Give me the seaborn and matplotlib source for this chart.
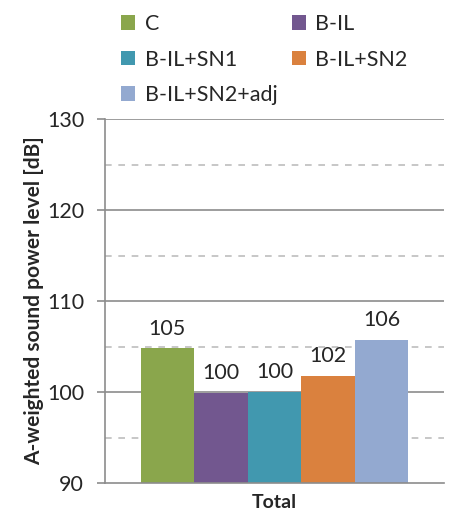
import matplotlib
matplotlib.use("Agg")
import matplotlib.pyplot as plt
from matplotlib.patches import Patch
from matplotlib.ticker import MultipleLocator
import pandas as pd
import seaborn as sns

# Configurations and their total A-weighted sound power levels
configs = ["C", "B-IL", "B-IL+SN1", "B-IL+SN2", "B-IL+SN2+adj"]
levels_db = [104.8, 99.9, 100.0, 101.8, 105.7]
group = ["Total"]
colors = ["#8AA64C", "#72578F", "#4198AF", "#DA813E", "#93A9D0"]

floor = 90  # y-axis floor; bars rise from here

df = pd.DataFrame({
    "group": group * len(configs),
    "config": configs,
    "height": [v - floor for v in levels_db],
})

sns.set_theme(style="white")
plt.rcParams["font.family"] = ["Lato", "DejaVu Sans"]

fig = plt.figure(figsize=(4.5, 5.11), dpi=100)
ax = fig.add_axes([0.2333, 0.0548, 0.7534, 0.7122])

sns.barplot(data=df, x="group", y="height", hue="config", hue_order=configs,
            palette=colors, width=0.79, saturation=1, legend=False,
            linewidth=0, ax=ax)
for patch in ax.patches:
    patch.set_y(floor)

ax.set_xlim(-0.5, 0.5)
ax.set_ylim(90, 130)
ax.yaxis.set_major_locator(MultipleLocator(10))

ax.grid(False)
for y in [100, 110, 120, 130]:
    ax.axhline(y, color="#8C8C8C", lw=1.2, zorder=0)
for y in [95, 105, 115, 125]:
    ax.axhline(y, color="#BDBDBD", lw=1.2, ls=(0, (4, 4)), zorder=0)

for side in ["top", "right"]:
    ax.spines[side].set_visible(False)
for side in ["left", "bottom"]:
    ax.spines[side].set_color("#8C8C8C")
    ax.spines[side].set_linewidth(1.2)

ax.tick_params(axis="y", which="major", left=True, length=6, width=1.2,
               color="#8C8C8C", labelsize=15.5, labelcolor="#262626", pad=9)
ax.tick_params(axis="x", bottom=False, labelsize=14, pad=2)
for lbl in ax.get_xticklabels():
    lbl.set_fontweight("bold")

ax.set_xlabel("")
ax.set_ylabel("A-weighted sound power level [dB]", fontsize=15,
              fontweight="bold", labelpad=2)

# value labels above each bar
for container, val in zip(ax.containers, levels_db):
    for bar in container:
        ax.annotate(f"{val:.0f}", (bar.get_x() + bar.get_width() / 2, val),
                    xytext=(0, 7), textcoords="offset points",
                    ha="center", va="bottom", fontsize=15.5, color="#262626")

# legend laid out row by row in two fixed columns
handles = [Patch(facecolor=c, edgecolor="none") for c in colors]
legend_kw = dict(loc="upper left", frameon=False, fontsize=15.5,
                 handlelength=0.65, handleheight=0.65, handletextpad=0.45,
                 labelspacing=0.72, borderaxespad=0.0, borderpad=0.3)
left_idx = [0, 2, 4]
right_idx = [1, 3]
leg1 = fig.legend([handles[i] for i in left_idx], [configs[i] for i in left_idx],
                  bbox_to_anchor=(0.255, 0.985), **legend_kw)
leg2 = fig.legend([handles[i] for i in right_idx], [configs[i] for i in right_idx],
                  bbox_to_anchor=(0.634, 0.985), **legend_kw)

fig.savefig("out.png", dpi=100)
